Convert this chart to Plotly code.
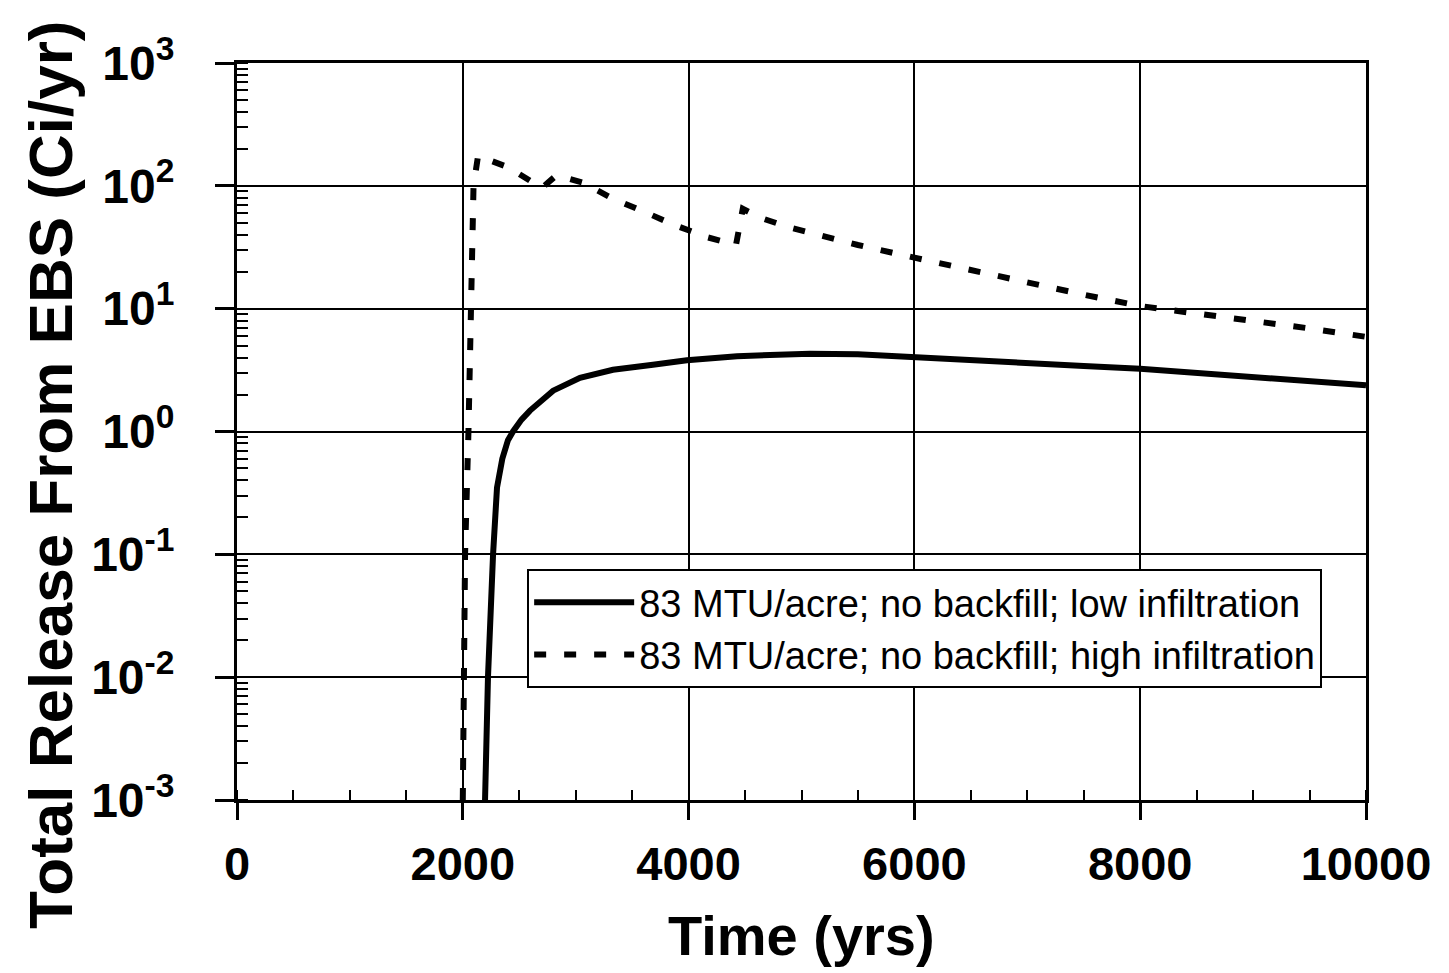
import plotly.graph_objects as go

# Release rate histories (time in years, release in Ci/yr)
t_low = [2197, 2223, 2268, 2303, 2350, 2400, 2445, 2520, 2595, 2700, 2800, 3038,
         3330, 3684, 3985, 4429, 5075, 5500, 6000, 6500, 7000, 7500, 8000, 8500,
         9000, 9500, 10000]
rel_low = [1e-3, 1e-2, 1e-1, 0.35, 0.6, 0.85, 1.0, 1.25, 1.48, 1.8, 2.15, 2.74,
           3.18, 3.5, 3.8, 4.1, 4.3, 4.25, 4.05, 3.85, 3.62, 3.42, 3.24, 3.0,
           2.77, 2.57, 2.38]

t_high = [2000, 2005, 2020, 2050, 2075, 2095, 2135, 2400, 2700, 2830, 3064, 3330,
          3605, 3888, 4172, 4420, 4480, 4632, 4898, 5164, 5500, 6000, 6500, 7000,
          7500, 8000, 8500, 9000, 9500, 10000]
rel_high = [1e-3, 1e-2, 1e-1, 1, 10, 100, 175, 142, 96, 122, 106, 78.5,
            61.6, 47.4, 38, 33, 65, 55.1, 45.7, 39.4, 33, 26, 20.5, 16.5,
            13, 10.5, 9.2, 8.0, 6.9, 5.9]

label_low = "83 MTU/acre; no backfill; low infiltration"
label_high = "83 MTU/acre; no backfill; high infiltration"

x_ticks = [0, 2000, 4000, 6000, 8000, 10000]
x_ticktext = [str(v) for v in x_ticks]
y_exps = [-3, -2, -1, 0, 1, 2, 3]
y_tickvals = [10.0 ** e for e in y_exps]
y_ticktext = ["10<sup>%d</sup>" % e for e in y_exps]

FONT = "Liberation Sans, Arial, Helvetica, sans-serif"

fig = go.Figure()
fig.add_trace(go.Scatter(
    x=t_low, y=rel_low, mode="lines", name=label_low,
    line=dict(color="black", width=6),
))
fig.add_trace(go.Scatter(
    x=t_high, y=rel_high, mode="lines", name=label_high,
    line=dict(color="black", width=6, dash="12px,18px"),
))

fig.update_layout(
    width=1449, height=973,
    margin=dict(l=237, r=83, t=63, b=173),
    paper_bgcolor="white", plot_bgcolor="white",
    font=dict(family=FONT, color="black"),
    showlegend=True,
    legend=dict(
        x=0.257, y=0.3134, xanchor="left", yanchor="top",
        bgcolor="white", bordercolor="black", borderwidth=2,
        font=dict(family=FONT, size=38, color="black"),
        itemwidth=100,
    ),
    xaxis=dict(
        range=[0, 10000], tickvals=x_ticks, ticktext=x_ticktext,
        ticks="outside", ticklen=17, tickwidth=3, tickcolor="black",
        showline=True, linecolor="black", linewidth=3, mirror=True,
        showgrid=True, gridcolor="black", gridwidth=2,
        zeroline=False,
        tickfont=dict(family=FONT, size=47, weight="bold"),
        ticklabelstandoff=4,
        minor=dict(dtick=500, ticks="inside", ticklen=10, tickwidth=2,
                   tickcolor="black", showgrid=False),
    ),
    yaxis=dict(
        type="log", range=[-3, 3],
        tickvals=y_tickvals, ticktext=y_ticktext,
        ticks="outside", ticklen=19, tickwidth=3, tickcolor="black",
        showline=True, linecolor="black", linewidth=3, mirror=True,
        showgrid=True, gridcolor="black", gridwidth=2,
        zeroline=False,
        tickfont=dict(family=FONT, size=48, weight="bold"),
        ticklabelstandoff=31,
        minor=dict(dtick="D1", ticks="inside", ticklen=11, tickwidth=2,
                   tickcolor="black", showgrid=False),
    ),
    xaxis2=dict(
        overlaying="x", side="top", anchor="y", range=[0, 10000],
        tickvals=x_ticks, ticks="inside", ticklen=10, tickwidth=2,
        tickcolor="black", showticklabels=False, showgrid=False,
        zeroline=False, showline=False,
        minor=dict(dtick=500, ticks="inside", ticklen=10, tickwidth=2,
                   tickcolor="black", showgrid=False),
    ),
    yaxis2=dict(
        overlaying="y", side="right", anchor="x", type="log", range=[-3, 3],
        tickvals=y_tickvals, ticks="inside", ticklen=11, tickwidth=2,
        tickcolor="black", showticklabels=False, showgrid=False,
        zeroline=False, showline=False,
        minor=dict(dtick="D1", ticks="inside", ticklen=11, tickwidth=2,
                   tickcolor="black", showgrid=False),
    ),
    annotations=[
        dict(text="Time (yrs)", xref="paper", yref="paper",
             x=0.5, y=(800 - 935) / 737, xanchor="center", yanchor="middle",
             showarrow=False,
             font=dict(family=FONT, size=56, weight="bold", color="black")),
        dict(text="Total Release From EBS (Ci/yr)", xref="paper", yref="paper",
             x=(50 - 237) / 1129, y=(800 - 475) / 737,
             xanchor="center", yanchor="middle", textangle=-90,
             showarrow=False,
             font=dict(family=FONT, size=62, weight="bold", color="black")),
    ],
)

fig.write_html("out.html")
